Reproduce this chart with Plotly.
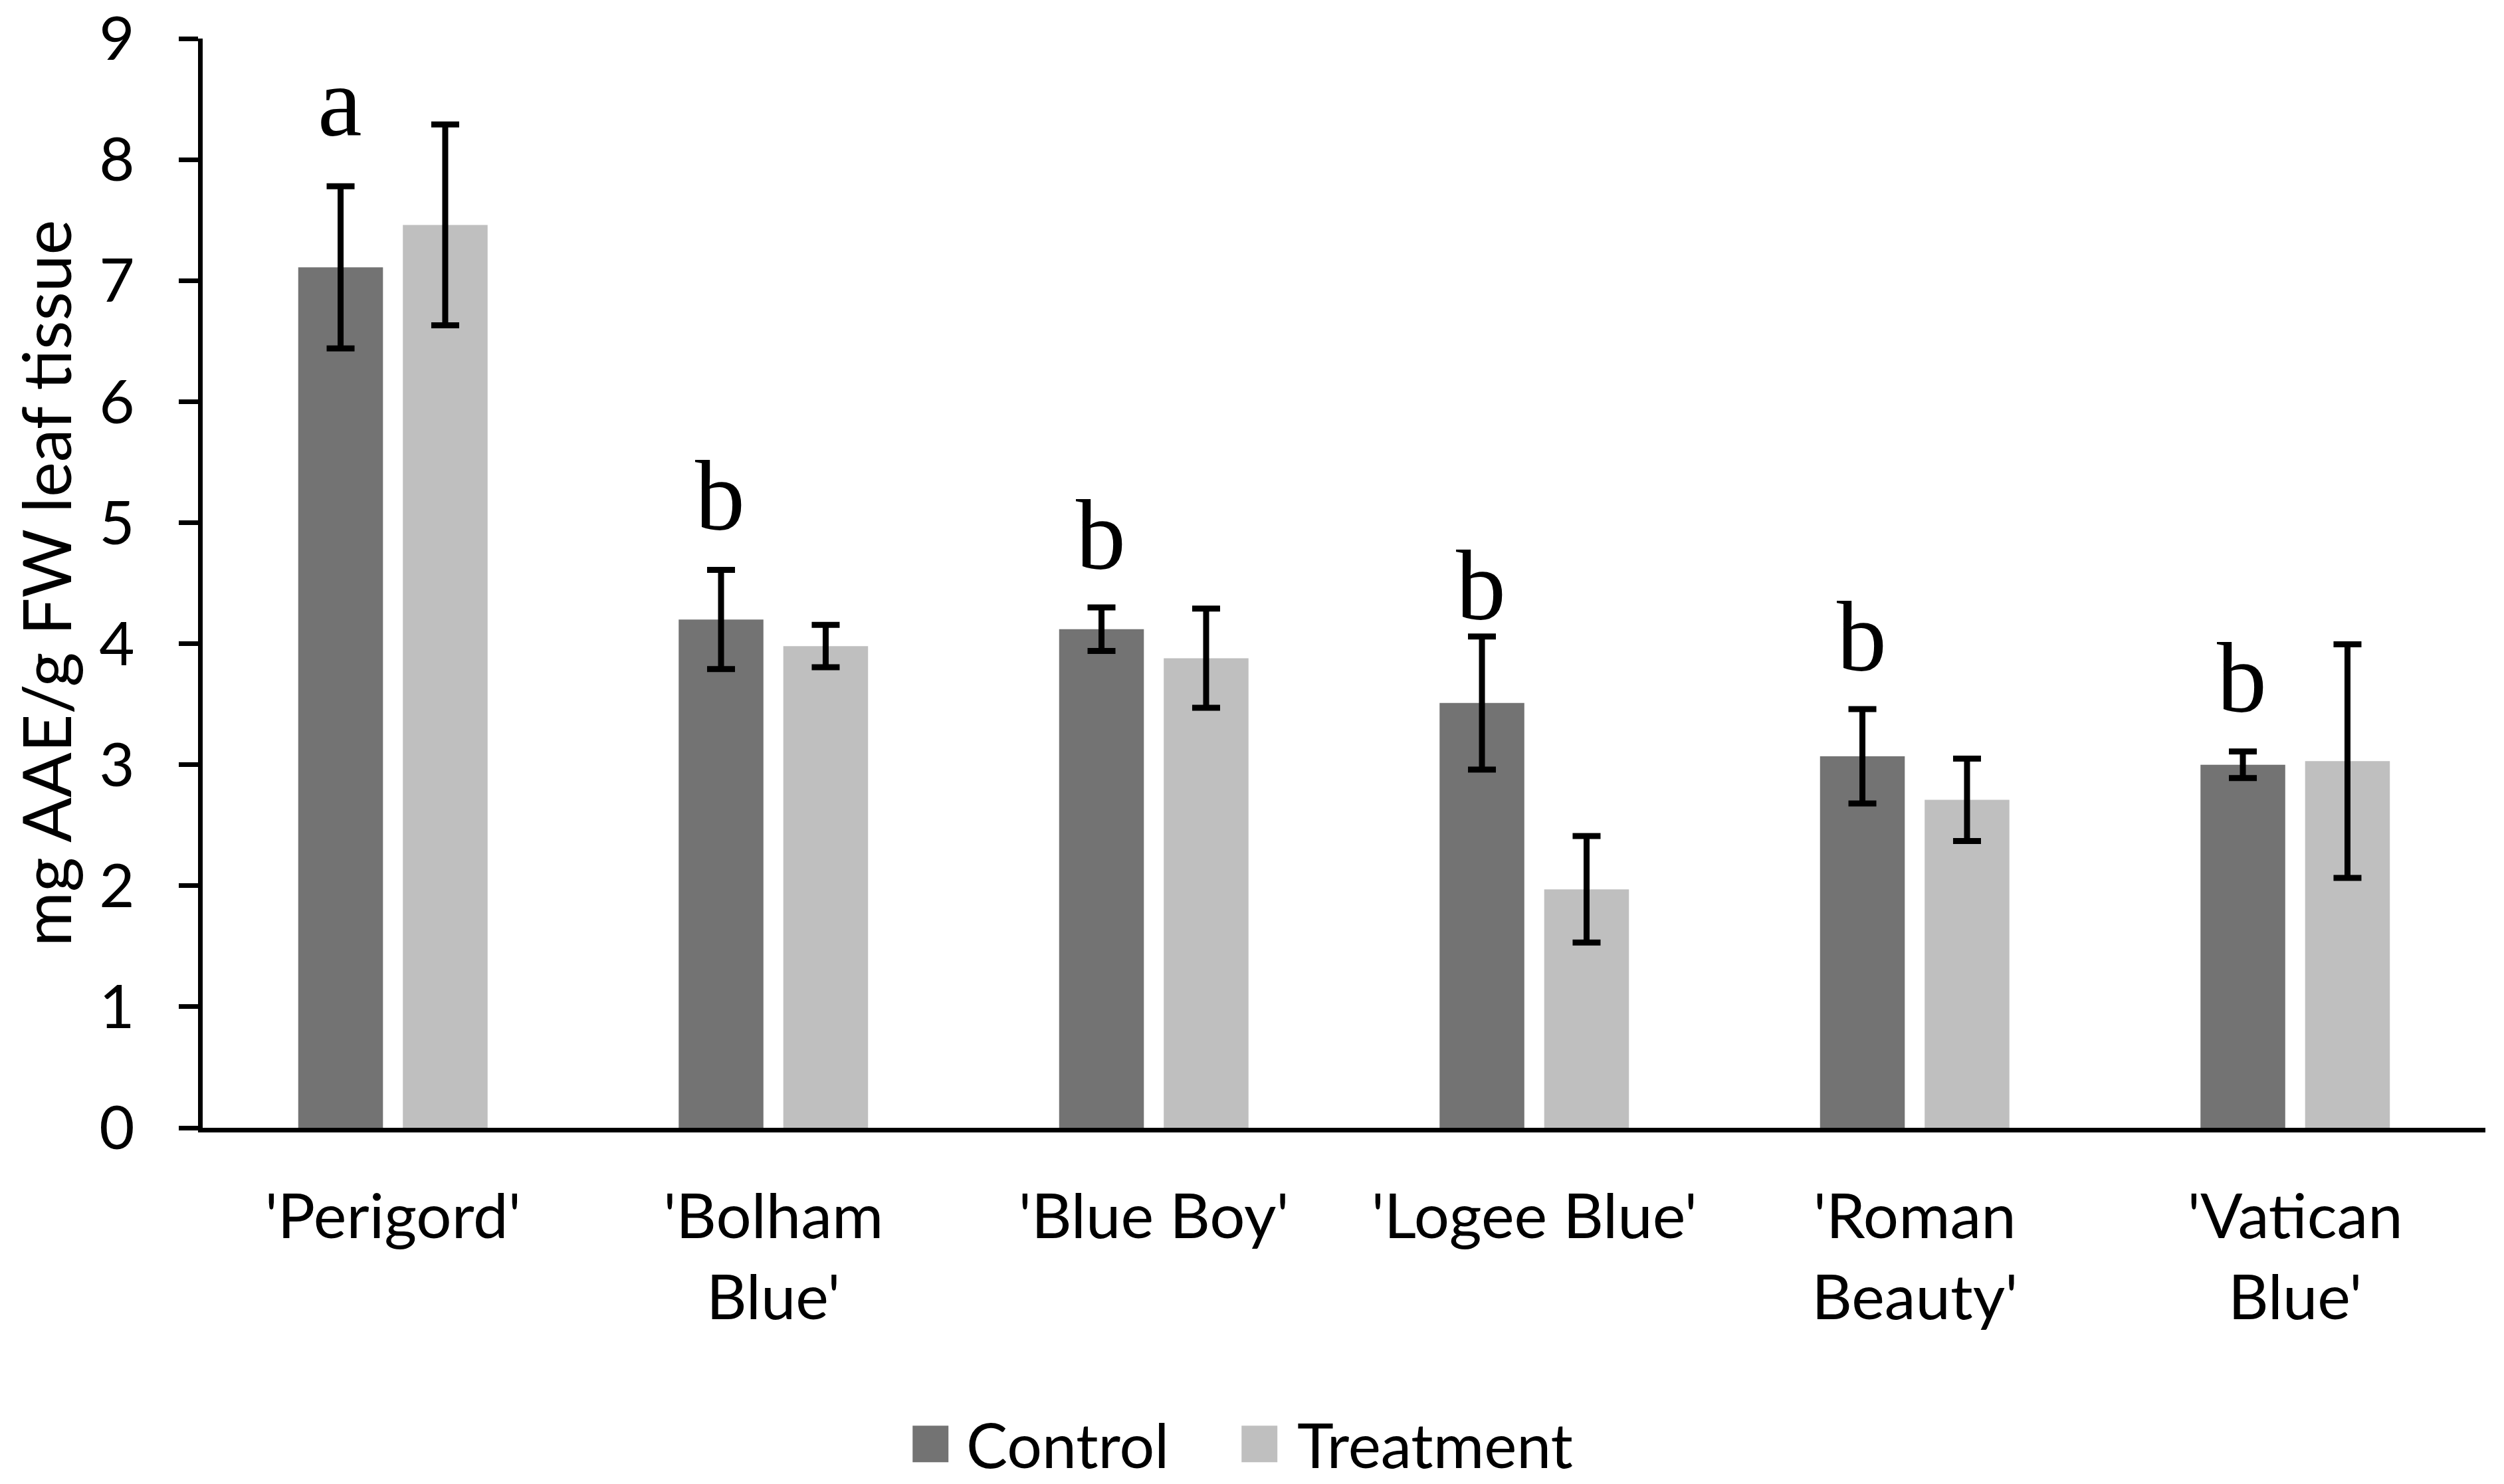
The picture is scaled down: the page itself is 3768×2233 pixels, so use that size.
import plotly.graph_objects as go

categories = ["'Perigord'", "'Bolham Blue'", "'Blue Boy'", "'Logee Blue'", "'Roman Beauty'", "'Vatican Blue'"]
tick_labels = ["'Perigord'", "'Bolham<br>Blue'", "'Blue Boy'", "'Logee Blue'", "'Roman<br>Beauty'", "'Vatican<br>Blue'"]

control = [7.11, 4.20, 4.12, 3.51, 3.07, 3.00]
control_err = [0.67, 0.41, 0.18, 0.55, 0.39, 0.11]
treatment = [7.46, 3.98, 3.88, 1.97, 2.71, 3.03]
treatment_err = [0.83, 0.175, 0.41, 0.44, 0.34, 0.965]

letters = ["a", "b", "b", "b", "b", "b"]
letter_y = [8.20, 4.94, 4.62, 4.20, 3.78, 3.44]

series_names = ["Control", "Treatment"]
series_colors = ["#737373", "#bfbfbf"]

FONT = "Lato"

fig = go.Figure()
for name, vals, errs, col in [
    (series_names[0], control, control_err, series_colors[0]),
    (series_names[1], treatment, treatment_err, series_colors[1]),
]:
    fig.add_trace(go.Bar(
        name=name, x=categories, y=vals,
        marker=dict(color=col, line=dict(width=0)),
        error_y=dict(type="data", array=errs, visible=True,
                     color="black", thickness=9, width=21),
        showlegend=False,
    ))

# significance letters above the control bars
for cat, let, ly in zip(categories, letters, letter_y):
    fig.add_annotation(
        x=cat, y=ly, xref="x", yref="y", text=let, showarrow=False,
        xshift=-80, yanchor="bottom", yshift=-34,
        font=dict(family="Liberation Serif", size=150, color="black"),
    )

# custom legend (large square swatches)
legend_items = [
    (series_names[0], series_colors[0], 0.3110, 0.3340),
    (series_names[1], series_colors[1], 0.4551, 0.4789),
]
for name, col, sx, tx in legend_items:
    fig.add_shape(type="rect", xref="paper", yref="paper",
                  x0=sx, x1=sx + 0.0157, y0=-0.3070, y1=-0.2735,
                  fillcolor=col, line=dict(width=0))
    fig.add_annotation(x=tx, y=-0.2903, xref="paper", yref="paper",
                       text=name, showarrow=False, xanchor="left", yanchor="middle",
                       font=dict(family=FONT, size=93, color="black"))

fig.update_layout(
    width=3768, height=2233,
    margin=dict(l=297, r=36, t=50, b=544, autoexpand=False),
    paper_bgcolor="white", plot_bgcolor="white",
    barmode="group", bargap=0.45, bargroupgap=0.19,
    font=dict(family=FONT, size=94, color="black"),
    showlegend=False,
)
fig.update_xaxes(
    type="category", range=[-0.5, 5.5],
    tickvals=categories, ticktext=tick_labels,
    showline=True, linecolor="black", linewidth=7,
    ticks="", showgrid=False, zeroline=False, automargin=False,
    tickfont=dict(family=FONT, size=94, color="black"),
    ticklabelstandoff=46,
)
fig.update_yaxes(
    range=[0, 9], dtick=1, tick0=0,
    showline=True, linecolor="black", linewidth=7,
    ticks="outside", ticklen=29, tickwidth=7, tickcolor="black",
    showgrid=False, zeroline=False, automargin=False,
    tickfont=dict(family=FONT, size=92, color="black"),
    ticklabelstandoff=48, ticklabeloverflow="allow",
    title=dict(text="mg AAE/g FW leaf tissue", standoff=40,
               font=dict(family=FONT, size=100, color="black")),
)

fig.write_html("out.html")
